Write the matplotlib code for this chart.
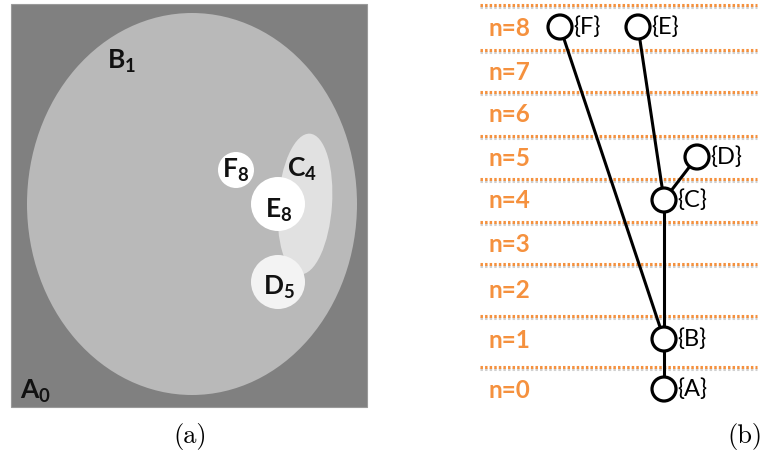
import matplotlib.pyplot as plt
from matplotlib.patches import Rectangle, Ellipse, Circle

plt.rcParams['mathtext.fontset'] = 'custom'
plt.rcParams['mathtext.bf'] = 'Lato:bold'
plt.rcParams['mathtext.rm'] = 'Lato'

# regions of panel (a): name, level, shape, centre, width, height, grey
reg_names = ['A', 'B', 'C', 'D', 'E', 'F']
reg_levels = [0, 1, 4, 5, 8, 8]
reg_shapes = ['rect', 'ellipse', 'ellipse', 'circle', 'circle', 'circle']
reg_centers = [(189, 205.5), (192, 204), (305, 204), (278, 282), (278, 204), (236, 170)]
reg_sizes = [(356, 403), (330, 382), (54, 141), (54, 54), (54, 54), (36, 36)]
reg_colors = ['#808080', '#b9b9b9', '#e1e1e1', '#f3f3f3', '#ffffff', '#ffffff']
reg_label_pos = [(36, 391), (122, 61), (302, 169), (279, 287), (279, 210), (236, 170)]

# tree of panel (b)
node_names = ['A', 'B', 'C', 'D', 'E', 'F']
node_levels = [0, 1, 4, 5, 8, 8]
node_parent = [None, 'A', 'B', 'C', 'C', 'B']
node_x = [664, 664, 664, 697, 638, 560]

levels = list(range(9))
level_y = [389, 339, 289, 243, 200, 157, 114, 71, 27]
band_lines = [5, 50, 92, 136, 179, 222, 264, 316, 367]

orange = '#f5913e'

fig = plt.figure(figsize=(7.65, 4.59), dpi=100)
ax = fig.add_axes([0, 0, 1, 1])
ax.set_xlim(0, 765)
ax.set_ylim(459, 0)
ax.axis('off')

# panel (a)
for name, lev, shape, c, s, col, lp in zip(reg_names, reg_levels, reg_shapes, reg_centers,
                                          reg_sizes, reg_colors, reg_label_pos):
    if shape == 'rect':
        p = Rectangle((c[0] - s[0] / 2, c[1] - s[1] / 2), s[0], s[1], fc=col, ec='#9a9a9a', lw=0.8)
    elif shape == 'ellipse':
        p = Ellipse(c, s[0], s[1], angle=4 if name == 'C' else 0, fc=col, ec='none')
    else:
        p = Circle(c, s[0] / 2, fc=col, ec='none')
    ax.add_patch(p)
    ax.text(lp[0], lp[1], r'$\mathbf{%s_{%d}}$' % (name, lev), fontsize=19,
            ha='center', va='center', color='#111111')

ax.text(190, 437, '(a)', family='cmr10', fontsize=19, ha='center', va='center')

# panel (b): dotted level bands
for y in band_lines:
    ax.plot([480, 757], [y + 1.5, y + 1.5], color='#d0d0d0', lw=2.2, dashes=(0.8, 0.7), zorder=1)
    ax.plot([480, 757], [y, y], color=orange, lw=2.2, dashes=(0.8, 0.7), zorder=2)
for lev, y in zip(levels, level_y):
    ax.text(489, y + 1, 'n=%d' % lev, fontsize=17.5, fontweight='bold', family='Lato',
            color=orange, ha='left', va='center')

node_pos = {n: (x, level_y[l]) for n, x, l in zip(node_names, node_x, node_levels)}
for n, par in zip(node_names, node_parent):
    if par is None:
        continue
    (x0, y0), (x1, y1) = node_pos[n], node_pos[par]
    ax.plot([x0, x1], [y0, y1], color='black', lw=2.2, zorder=3, solid_capstyle='round')
for n in node_names:
    x, y = node_pos[n]
    ax.add_patch(Circle((x, y), 12, fc='white', ec='black', lw=2.3, zorder=4))
    ax.text(x + 13, y, '{%s}' % n, fontsize=17, family='Lato', ha='left', va='center', zorder=5)

ax.text(745, 437, '(b)', family='cmr10', fontsize=19, ha='center', va='center')

fig.savefig('out.png', dpi=100)
